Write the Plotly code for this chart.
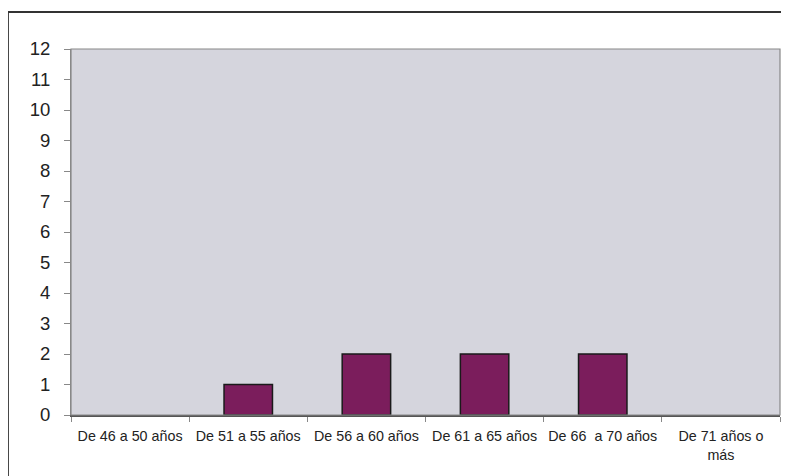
import plotly.graph_objects as go

categories = ["De 46 a 50 años", "De 51 a 55 años", "De 56 a 60 años",
              "De 61 a 65 años", "De 66  a 70 años", "De 71 años o<br>más"]
values = [0, 1, 2, 2, 2, 0]
y_ticks = list(range(0, 13))

# page body has an 8px margin, so figure is offset by 8px
OFF = 8
W, H = 789 - OFF, 476 - OFF
L, R, T, B = 71 - OFF, 9, 49 - OFF, 61
pw, ph = W - L - R, H - T - B

fig = go.Figure(go.Bar(
    x=categories, y=values,
    marker=dict(color="#7b1d5c",
                line=dict(color="#1a1a1a",
                          width=[0 if v == 0 else 1.5 for v in values])),
    hoverinfo="skip",
))

fig.update_layout(
    width=W, height=H,
    margin=dict(l=L, r=R, t=T, b=B),
    paper_bgcolor="white",
    plot_bgcolor="#d5d5dd",
    bargap=0.59,
    showlegend=False,
    font=dict(family="Liberation Sans, Arial, sans-serif", color="#222"),
    xaxis=dict(
        tickfont=dict(size=14.3, color="#222"),
        showgrid=False, showline=True, linecolor="#555", linewidth=1.5,
        mirror=False, ticks="outside", tickson="boundaries", ticklen=5,
        tickcolor="#888", zeroline=False, ticklabelstandoff=7,
    ),
    yaxis=dict(
        range=[0, 12], tickvals=y_ticks, ticktext=[str(v) for v in y_ticks],
        tickfont=dict(size=18.5, color="#222"),
        showgrid=False, showline=True, linecolor="#888", linewidth=1,
        ticks="outside", ticklen=6, tickcolor="#888", zeroline=False,
        ticklabelstandoff=10,
    ),
    shapes=[
        dict(type="rect", xref="paper", yref="paper", x0=0, x1=1, y0=0, y1=1,
             line=dict(color="#888", width=1.2), layer="above"),
        dict(type="rect", xref="paper", yref="paper",
             x0=(8 - 71) / pw, x1=(800 - 71) / pw,
             y0=(415 - 490) / ph, y1=1 + (49 - 12) / ph,
             line=dict(color="#333", width=1.8)),
    ],
)

fig.write_html("out.html")
